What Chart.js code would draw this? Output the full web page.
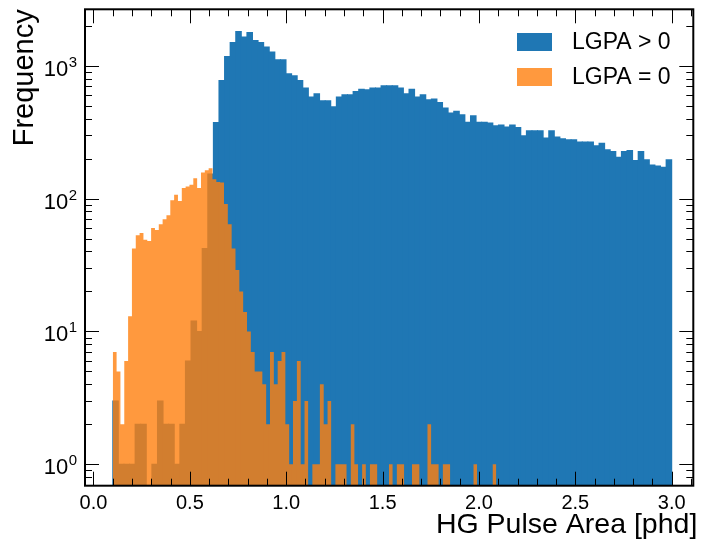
<!DOCTYPE html>
<html>
<head>
<meta charset="utf-8">
<script src="https://cdn.jsdelivr.net/npm/chart.js@4.4.1/dist/chart.umd.min.js"></script>
<style>
    html, body { margin: 0; padding: 0; background: #fff; }
    #wrap { width: 701px; height: 548px; }
</style>
</head>
<body>
<div id="wrap"><canvas id="histChart" width="701" height="548"></canvas></div>
<script>
// Histogram data: each series has 100 bins over its own range
const seriesLabels = ['LGPA > 0', 'LGPA = 0'];
const xTitle = 'HG Pulse Area [phd]';
const yTitle = 'Frequency';
const blueRange = [0.1, 3.0];
const orangeRange = [0.1, 2.09];

const blueCounts = [
    3, 1, 1, 1, 2, 2, 0, 1, 3, 2,
    2, 1, 2, 6, 12, 10, 42, 153, 373, 774,
    1172, 1496, 1811, 1641, 1778, 1549, 1496, 1380, 1265, 1109,
    1109, 869, 840, 774, 678, 580, 614, 544, 544, 490,
    580, 604, 604, 640, 666, 658, 678, 678, 706, 706,
    706, 678, 614, 666, 580, 604, 554, 562, 528, 480,
    440, 455, 427, 376, 420, 376, 376, 370, 353, 357,
    345, 357, 343, 297, 324, 324, 324, 285, 324, 290,
    282, 277, 277, 266, 266, 266, 250, 261, 233, 226,
    205, 226, 230, 193, 226, 196, 179, 176, 172, 196
];

const orangeCounts = [
    7, 5, 2, 6, 13, 42, 53, 55, 49, 48,
    60, 58, 64, 70, 75, 97, 107, 96, 120, 123,
    127, 142, 120, 157, 163, 169, 140, 133, 132, 91,
    64, 42, 29, 20, 14, 10, 7, 5, 5, 4,
    2, 7, 4, 6, 7, 2, 1, 3, 6, 1,
    3, 0, 1, 1, 4, 2, 3, 0, 1, 1,
    1, 0, 2, 1, 0, 1, 0, 1, 1, 0,
    0, 0, 1, 0, 1, 1, 0, 0, 1, 1,
    0, 0, 2, 1, 1, 0, 1, 1, 0, 0,
    0, 0, 0, 0, 1, 0, 0, 0, 0, 1
];

const xTicks = [0.0, 0.5, 1.0, 1.5, 2.0, 2.5, 3.0];
const yTickPowers = [0, 1, 2, 3];

const X_MIN = -0.044, X_MAX = 3.112;
const Y_MIN = 0.69, Y_MAX = 2657;
const FONT = '"Liberation Sans", Arial, Helvetica, sans-serif';

// bin centres as {x, y}; empty bins become null so nothing is drawn on the log axis
const toBars = (counts, range) => {
    const w = (range[1] - range[0]) / counts.length;
    return counts.map((c, i) => ({ x: range[0] + (i + 0.5) * w, y: c > 0 ? c : null }));
};

// same bins as an outline (left and right edge of every bin), so a filled line has no seams
const toSteps = (counts, range) => {
    const w = (range[1] - range[0]) / counts.length;
    const pts = [];
    counts.forEach((c, i) => {
        const y = c > 0 ? c : null;
        pts.push({ x: range[0] + i * w, y }, { x: range[0] + (i + 1) * w, y });
    });
    return pts;
};

// frame, inward ticks on all sides, y labels with superscripts, x title, legend inside the axes
const frameTicks = {
    id: 'frameTicks',
    afterDraw(chart) {
        const { ctx, chartArea: a, scales: { x, y } } = chart;
        ctx.save();
        ctx.strokeStyle = '#000';
        ctx.lineWidth = 1;
        ctx.beginPath();
        for (let k = 0; k <= 31; k++) {
            const v = k / 10;
            if (v < X_MIN || v > X_MAX) continue;
            const px = Math.round(x.getPixelForValue(v)) + 0.5;
            const len = k % 5 === 0 ? 14 : 7;
            ctx.moveTo(px, a.bottom); ctx.lineTo(px, a.bottom - len);
            ctx.moveTo(px, a.top); ctx.lineTo(px, a.top + len);
        }
        for (let p = -1; p <= 3; p++) {
            for (let m = 1; m <= 9; m++) {
                const v = m * Math.pow(10, p);
                if (v < Y_MIN || v > Y_MAX) continue;
                const py = Math.round(y.getPixelForValue(v)) + 0.5;
                const len = m === 1 ? 14 : 7;
                ctx.moveTo(a.left, py); ctx.lineTo(a.left + len, py);
                ctx.moveTo(a.right, py); ctx.lineTo(a.right - len, py);
            }
        }
        ctx.stroke();

        ctx.lineWidth = 2;
        ctx.strokeRect(a.left, a.top, a.right - a.left, a.bottom - a.top);

        // y tick labels 10^n
        ctx.fillStyle = '#000';
        ctx.textBaseline = 'alphabetic';
        ctx.textAlign = 'right';
        yTickPowers.forEach(p => {
            const py = y.getPixelForValue(Math.pow(10, p));
            const right = a.left - 8;
            ctx.font = '15px ' + FONT;
            const supW = ctx.measureText(String(p)).width;
            ctx.fillText(String(p), right, py + 1);
            ctx.font = '22px ' + FONT;
            ctx.fillText('10', right - supW - 0.5, py + 10);
        });

        // x title, right aligned just past the frame like the original
        ctx.font = '28.5px ' + FONT;
        ctx.textBaseline = 'middle';
        ctx.fillText(xTitle, a.right + 4, 525);

        // legend
        const ds = chart.data.datasets;
        ctx.font = '23px ' + FONT;
        ctx.textAlign = 'left';
        [0, 1].forEach(i => {
            const top = 33 + i * 35;
            ctx.fillStyle = ds[i].backgroundColor;
            ctx.fillRect(517, top, 35, 18);
            ctx.fillStyle = '#000';
            ctx.fillText(ds[i].label, 572, top + 10);
        });
        ctx.restore();
    }
};

new Chart(document.getElementById('histChart').getContext('2d'), {
    type: 'bar',
    data: {
        datasets: [{
            label: seriesLabels[0],
            data: toBars(blueCounts, blueRange),
            backgroundColor: '#1f77b4',
            borderWidth: 0,
            inflateAmount: 0.5,
            barPercentage: 1,
            categoryPercentage: 1,
            order: 2
        }, {
            type: 'line',
            label: seriesLabels[1],
            data: toSteps(orangeCounts, orangeRange),
            backgroundColor: 'rgba(255, 127, 14, 0.8)',
            borderColor: 'rgba(0, 0, 0, 0)',
            borderWidth: 0,
            pointRadius: 0,
            tension: 0,
            spanGaps: false,
            fill: 'start',
            order: 1
        }]
    },
    options: {
        responsive: false,
        animation: false,
        layout: { padding: { left: 0, top: 9.3, right: 7.7, bottom: 0 } },
        plugins: {
            legend: { display: false },
            tooltip: { enabled: false }
        },
        scales: {
            x: {
                type: 'linear',
                min: X_MIN,
                max: X_MAX,
                offset: false,
                afterBuildTicks: s => { s.ticks = xTicks.map(v => ({ value: v })); },
                afterFit: s => { s.height = 62.3; },
                grid: { display: false },
                border: { display: false },
                ticks: {
                    color: '#000',
                    font: { family: FONT, size: 20 },
                    padding: -2,
                    maxRotation: 0,
                    callback: v => v.toFixed(1)
                }
            },
            y: {
                type: 'logarithmic',
                min: Y_MIN,
                max: Y_MAX,
                afterFit: s => { s.width = 85; },
                grid: { display: false },
                border: { display: false },
                ticks: { display: false },
                title: {
                    display: true,
                    text: yTitle,
                    align: 'end',
                    color: '#000',
                    font: { family: FONT, size: 29 },
                    padding: { top: 8, bottom: 0 }
                }
            }
        }
    },
    plugins: [frameTicks]
});
</script>
</body>
</html>
